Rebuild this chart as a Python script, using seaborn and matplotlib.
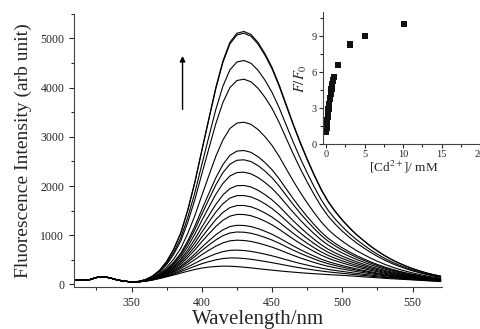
import numpy as np
import pandas as pd
import matplotlib
matplotlib.use('Agg')
import matplotlib.pyplot as plt
from matplotlib.ticker import MultipleLocator
import seaborn as sns

# wavelength grid (nm)
wavelength = list(range(310, 575, 5))

# lowest spectrum (no Cd2+)
base_curve = [85, 85, 95, 140, 160, 130, 90, 65, 52, 52,
              66, 90, 120, 155, 190, 230, 268, 303, 333, 352,
              365, 372, 370, 362, 350, 336, 320, 305, 290, 276,
              262, 250, 238, 228, 218, 209, 200, 192, 185, 175,
              165, 155, 145, 135, 125, 116, 108, 100, 92, 84,
              75, 68, 62]

# shape of the growing band (normalised)
growth_band = [0, 0, 0, 0, 0, 0, 0, 0, 0, 0.002,
               0.007, 0.017, 0.035, 0.065, 0.11, 0.17, 0.26, 0.37, 0.50, 0.63,
               0.76, 0.87, 0.95, 0.99, 1.0, 0.99, 0.96, 0.915, 0.86, 0.79,
               0.71, 0.63, 0.555, 0.485, 0.42, 0.36, 0.31, 0.27, 0.235, 0.205,
               0.178, 0.155, 0.133, 0.114, 0.097, 0.082, 0.069, 0.058, 0.048, 0.04,
               0.033, 0.027, 0.022]

# peak intensities of each spectrum in the titration
peak_intensity = [372, 549, 711, 915, 1083, 1220, 1443, 1626, 1829,
                  2033, 2303, 2555, 2744, 3319, 4193, 4573, 5128, 5163]

# inset: F/F0 against [Cd2+]
cd_conc = [0.0, 0.05, 0.1, 0.15, 0.2, 0.25, 0.3, 0.4, 0.5, 0.6, 0.7,
           0.8, 0.9, 1.05, 1.5, 3.1, 5.1, 10.1]
f_ratio = [1.0, 1.35, 1.7, 2.0, 2.3, 2.6, 2.9, 3.3, 3.8, 4.2, 4.6,
           5.0, 5.3, 5.6, 6.6, 8.3, 9.0, 10.0]

sns.set_style('ticks')
plt.rcParams['font.family'] = ['Liberation Serif', 'DejaVu Serif']
plt.rcParams['mathtext.fontset'] = 'stix'

base = np.array(base_curve, dtype=float)
band = np.array(growth_band)
rows = []
for i, p in enumerate(peak_intensity):
    amp = p - peak_intensity[0]
    for w, v in zip(wavelength, base + amp * band):
        rows.append({'curve': i, 'wavelength': w, 'intensity': v})
spectra = pd.DataFrame(rows)

fig = plt.figure(figsize=(4.8, 3.29), dpi=100)
ax = fig.add_axes([0.154, 0.128, 0.767, 0.830])
sns.lineplot(data=spectra, x='wavelength', y='intensity', units='curve',
             estimator=None, color='black', linewidth=0.8, ax=ax)
ax.set_xlim(309, 571)
ax.set_ylim(-50, 5500)
ax.xaxis.set_major_locator(MultipleLocator(50))
ax.xaxis.set_minor_locator(MultipleLocator(25))
ax.yaxis.set_major_locator(MultipleLocator(1000))
ax.yaxis.set_minor_locator(MultipleLocator(500))
ax.tick_params(which='major', direction='out', length=3.5, width=0.8, labelsize=8.5)
ax.tick_params(which='minor', direction='out', length=2.5, width=0.8)
ax.set_xticks([350, 400, 450, 500, 550])
ax.set_xlabel('Wavelength/nm', fontsize=15, labelpad=1)
ax.set_ylabel('Fluorescence Intensity (arb unit)', fontsize=14, labelpad=6)
sns.despine(ax=ax)
for s in ax.spines.values():
    s.set_linewidth(0.8)
    s.set_color('#444444')

ax.annotate('', xy=(386.3, 4700), xytext=(386.3, 3500),
            arrowprops=dict(arrowstyle='-|>', color='black', lw=1.0,
                            mutation_scale=8))

# inset
ins = fig.add_axes([0.673, 0.562, 0.335, 0.401])
ins.patch.set_alpha(0)
sns.scatterplot(x=cd_conc, y=f_ratio, marker='s', s=20, color='#111111',
                edgecolor='none', ax=ins)
ins.set_xlim(-0.4, 20.5)
ins.set_ylim(0, 11)
ins.xaxis.set_major_locator(MultipleLocator(5))
ins.xaxis.set_minor_locator(MultipleLocator(2.5))
ins.yaxis.set_major_locator(MultipleLocator(3))
ins.yaxis.set_minor_locator(MultipleLocator(1.5))
ins.tick_params(which='major', direction='out', length=3, width=0.8, labelsize=7.5, pad=1.5)
ins.tick_params(which='minor', direction='out', length=2, width=0.8)
ins.set_xlabel('[Cd$^{2+}$]/ mM', fontsize=9.5, labelpad=0)
ins.set_ylabel('$F/F_0$', fontsize=10.5, labelpad=2)
sns.despine(ax=ins)
for s in ins.spines.values():
    s.set_linewidth(0.8)
    s.set_color('#444444')

fig.savefig('out.png', dpi=100)
